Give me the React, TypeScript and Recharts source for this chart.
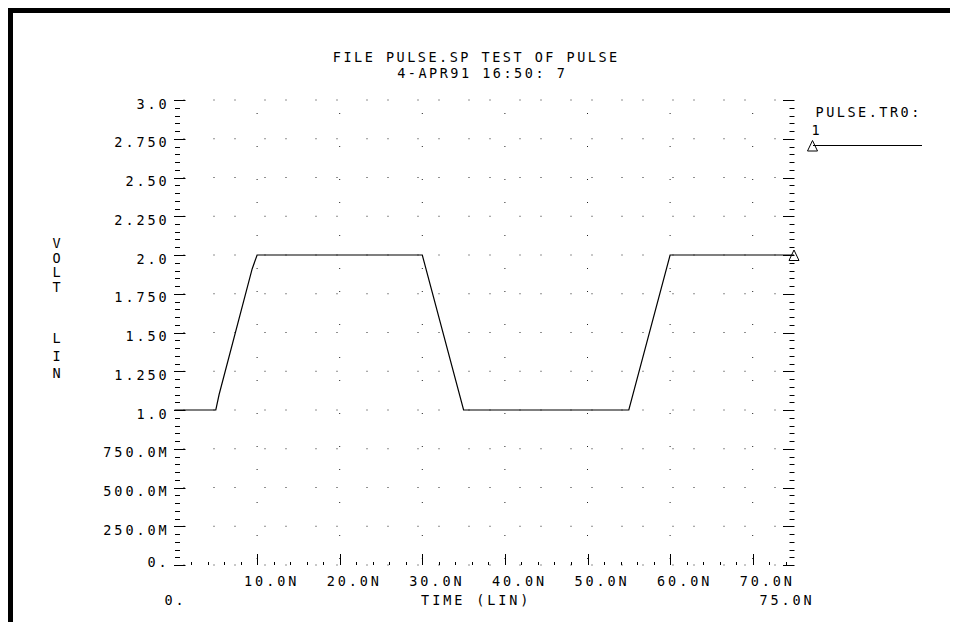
import React from "react";
import { LineChart, Line, XAxis, YAxis, CartesianGrid } from "recharts";

// transient result of PULSE.SP, node voltage vs time (ns)
const TIME_NS = [0, 5, 5.4, 9.4, 10, 30, 35, 55, 60, 75];
const VOLTS = [1.0, 1.0, 1.1, 1.91, 2.0, 2.0, 1.0, 1.0, 2.0, 2.0];

const Y_MAJOR = [0, 0.25, 0.5, 0.75, 1.0, 1.25, 1.5, 1.75, 2.0, 2.25, 2.5, 2.75, 3.0];
const Y_LABELS = ["0.", "250.0M", "500.0M", "750.0M", "1.0", "1.250", "1.50", "1.750", "2.0", "2.250", "2.50", "2.750", "3.0"];
const Y_MINOR_STEP = 0.05;

const X_MAJOR = [10, 20, 30, 40, 50, 60, 70];
const X_LABELS = ["10.0N", "20.0N", "30.0N", "40.0N", "50.0N", "60.0N", "70.0N"];
const X_ENDS = [0, 75];
const X_END_LABELS = ["0.", "75.0N"];
const X_MINOR_STEP = 2;

const TITLE = "FILE PULSE.SP TEST OF PULSE";
const SUBTITLE = "4-APR91 16:50: 7";
const X_TITLE = "TIME (LIN)";
const Y_TITLE_TOP = "VOLT";
const Y_TITLE_BOTTOM = "LIN";
const SERIES_NAME = "PULSE.TR0:";
const SERIES_TAG = "1";

const data = TIME_NS.map((t, i) => ({ t, v: VOLTS[i] }));

const W = 950;
const H = 614;
// axes are 1px wide, so the plot box is 166.5..786 x 92..557
const M = { top: 92, right: 164, bottom: 56, left: 165.5 };
const PLOT_L = M.left + 1;
const PLOT_R = W - M.right;
const PLOT_B = H - M.bottom - 1;
const MID_X = (PLOT_L + PLOT_R) / 2 - 8;

const FONT = "'DejaVu Sans Mono', monospace";
const txt: React.CSSProperties = { fontFamily: FONT, fontSize: 13.5, letterSpacing: "2.9px" };

const yTicks = Array.from({ length: Math.round(3 / Y_MINOR_STEP) + 1 }, (_, i) => +(i * Y_MINOR_STEP).toFixed(2));
const xTicks = [X_ENDS[0], ...Array.from({ length: 37 }, (_, i) => (i + 1) * X_MINOR_STEP), X_ENDS[1]];

const near = (a: number, b: number) => Math.abs(a - b) < 1e-6;
const px = (n: number) => Math.round(n) + 0.5;
const tri = (cx: number, cy: number) => `M${cx},${cy - 5} L${cx + 5},${cy + 5.5} L${cx - 5},${cy + 5.5} Z`;

// left axis tick + label, and the mirrored inward tick on the right frame edge
const LeftTick = (p: any) => {
  const { x, y, payload } = p;
  const idx = Y_MAJOR.findIndex((m) => near(m, payload.value));
  const major = idx >= 0;
  const yy = px(y);
  const rx = x + (PLOT_R - PLOT_L);
  return (
    <g>
      <line x1={major ? x - 0.5 : x + 0.5} x2={major ? x + 11 : x + 5.5} y1={yy} y2={yy} stroke="#000" strokeWidth={1} />
      <line x1={major ? rx - 11 : rx - 4.5} x2={rx + 0.5} y1={yy} y2={yy} stroke="#000" strokeWidth={1} />
      {major && (
        <text x={x - 5} y={idx === 0 ? y + 1.7 : y + 8.5} textAnchor="end" style={txt} fill="#000">
          {Y_LABELS[idx]}
        </text>
      )}
    </g>
  );
};

const BottomTick = (p: any) => {
  const { x, y, payload } = p;
  const v = payload.value;
  const end = X_ENDS.indexOf(v);
  if (end >= 0) {
    return (
      <text x={end === 0 ? x + 1 : x - 7} y={y + 40} textAnchor="middle" style={txt} fill="#000">
        {X_END_LABELS[end]}
      </text>
    );
  }
  const idx = X_MAJOR.indexOf(v);
  const xx = px(x);
  return (
    <g>
      <line x1={xx} x2={xx} y1={y} y2={y - (idx >= 0 ? 11 : 3)} stroke="#000" strokeWidth={1} />
      {idx >= 0 && (
        <text x={x - 13} y={y + 21} textAnchor="start" style={txt} fill="#000">
          {X_LABELS[idx]}
        </text>
      )}
    </g>
  );
};

const EndMarker = (p: any) => {
  const { cx, cy, index } = p;
  if (index !== data.length - 1) return <g key={`m${index}`} />;
  return <path key={`m${index}`} d={tri(cx, cy)} fill="none" stroke="#000" strokeWidth={1} />;
};

export default function App() {
  return (
    <div style={{ position: "relative", width: W, height: H }}>
      <LineChart width={W} height={H} data={data} margin={M}>
        <CartesianGrid
          vertical={false}
          horizontalValues={Y_MAJOR}
          stroke="#222"
          strokeDasharray="1 29 1 20"
          strokeDashoffset={42}
        />
        <CartesianGrid
          horizontal={false}
          verticalValues={X_MAJOR}
          stroke="#222"
          strokeDasharray="1 32 1 22 1 32"
          strokeDashoffset={43}
        />
        <XAxis
          dataKey="t"
          type="number"
          domain={[0, 75]}
          ticks={xTicks}
          interval={0}
          height={1}
          tickSize={0}
          tickMargin={0}
          axisLine={false}
          tickLine={false}
          tick={BottomTick}
        />
        <YAxis
          type="number"
          domain={[0, 3]}
          ticks={yTicks}
          interval={0}
          width={1}
          tickSize={0}
          tickMargin={0}
          axisLine={false}
          tickLine={false}
          tick={LeftTick}
        />
        <Line
          type="linear"
          dataKey="v"
          stroke="#000"
          strokeWidth={1.2}
          dot={EndMarker}
          activeDot={false}
          isAnimationActive={false}
        />

        <text x={MID_X} y={54} textAnchor="middle" style={{ ...txt, letterSpacing: "2.5px" }} fill="#000">
          {TITLE}
        </text>
        <text x={MID_X + 6} y={70} textAnchor="middle" style={{ ...txt, letterSpacing: "2.5px" }} fill="#000">
          {SUBTITLE}
        </text>
        <text x={MID_X} y={PLOT_B + 40} textAnchor="middle" style={txt} fill="#000">
          {X_TITLE}
        </text>
        {Y_TITLE_TOP.split("").map((c, i) => (
          <text key={`a${i}`} x={50} y={240 + i * 14.7} textAnchor="middle" style={txt} fill="#000">
            {c}
          </text>
        ))}
        {Y_TITLE_BOTTOM.split("").map((c, i) => (
          <text key={`b${i}`} x={50} y={335 + i * 17.5} textAnchor="middle" style={txt} fill="#000">
            {c}
          </text>
        ))}

        <text x={PLOT_R + 21.5} y={M.top + 17} style={{ ...txt, letterSpacing: "2.5px" }} fill="#000">
          {SERIES_NAME}
        </text>
        <text x={PLOT_R + 23} y={M.top + 35} textAnchor="middle" style={txt} fill="#000">
          {SERIES_TAG}
        </text>
        <line x1={PLOT_R + 19} x2={PLOT_R + 128} y1={px(M.top + 45)} y2={px(M.top + 45)} stroke="#000" strokeWidth={1} />
        <path d={tri(PLOT_R + 18.5, M.top + 45.5)} fill="none" stroke="#000" strokeWidth={1} />
      </LineChart>
      <div
        style={{
          position: "absolute",
          left: -1,
          top: -1,
          right: 0,
          bottom: 0,
          borderTop: "6px solid #000",
          borderLeft: "6px solid #000",
          boxShadow: "0 -1px 0 #aaa",
          pointerEvents: "none",
        }}
      />
    </div>
  );
}
